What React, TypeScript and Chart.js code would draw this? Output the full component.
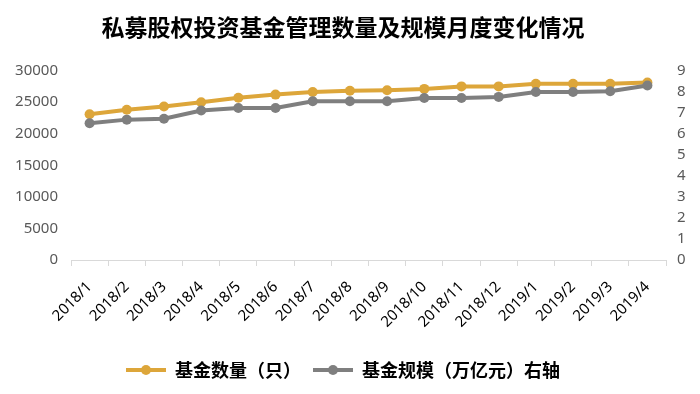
import React, { useEffect, useRef } from "react";
import { Chart, registerables } from "chart.js";

Chart.register(...registerables);

const TITLE = "私募股权投资基金管理数量及规模月度变化情况";
const CATEGORIES = [
  "2018/1", "2018/2", "2018/3", "2018/4", "2018/5", "2018/6", "2018/7", "2018/8",
  "2018/9", "2018/10", "2018/11", "2018/12", "2019/1", "2019/2", "2019/3", "2019/4",
];
const COUNT_LABEL = "基金数量（只）";
const COUNT_VALUES = [
  23100, 23800, 24300, 25000, 25700, 26200, 26600, 26800,
  26900, 27100, 27500, 27500, 27900, 27900, 27900, 28100,
];
const SCALE_LABEL = "基金规模（万亿元）右轴";
const SCALE_VALUES = [
  6.5, 6.67, 6.71, 7.1, 7.22, 7.22, 7.54, 7.54,
  7.54, 7.7, 7.7, 7.75, 7.98, 7.98, 8.02, 8.29,
];

const YELLOW = "#DDA63A";
const GRAY = "#7F7F7F";
const NUM_FONT = "'Noto Sans', sans-serif";
const CJK_FONT = "'Noto Sans CJK SC', sans-serif";

function makeLegendIcon(color: string) {
  const c = document.createElement("canvas");
  c.width = 40;
  c.height = 12;
  const ctx = c.getContext("2d")!;
  ctx.strokeStyle = color;
  ctx.lineWidth = 4;
  ctx.beginPath();
  ctx.moveTo(0, 6);
  ctx.lineTo(40, 6);
  ctx.stroke();
  ctx.fillStyle = color;
  ctx.beginPath();
  ctx.arc(20, 6, 5, 0, Math.PI * 2);
  ctx.fill();
  return c;
}

export default function App() {
  const ref = useRef<HTMLCanvasElement | null>(null);

  useEffect(() => {
    if (!ref.current) return;
    const icons = [makeLegendIcon(YELLOW), makeLegendIcon(GRAY)];
    const chart = new Chart(ref.current, {
      type: "line",
      data: {
        labels: CATEGORIES,
        datasets: [
          {
            label: COUNT_LABEL,
            data: COUNT_VALUES,
            borderColor: YELLOW,
            backgroundColor: YELLOW,
            borderWidth: 4,
            pointRadius: 5,
            pointBorderWidth: 0,
            pointBackgroundColor: YELLOW,
            yAxisID: "y",
            order: 1,
          },
          {
            label: SCALE_LABEL,
            data: SCALE_VALUES,
            borderColor: GRAY,
            backgroundColor: GRAY,
            borderWidth: 4,
            pointRadius: 5,
            pointBorderWidth: 0,
            pointBackgroundColor: GRAY,
            yAxisID: "y1",
            order: 0,
          },
        ],
      },
      options: {
        responsive: false,
        animation: false,
        devicePixelRatio: 1,
        layout: { padding: { left: 0, right: 14, top: 0, bottom: 5 } },
        plugins: {
          tooltip: { enabled: false },
          title: {
            display: true,
            text: TITLE,
            color: "#000",
            font: { family: CJK_FONT, size: 23, weight: "bold" },
            padding: { top: 13, bottom: 30 },
          },
          legend: {
            position: "bottom",
            labels: {
              color: "#000",
              font: { family: CJK_FONT, size: 18, weight: "bold" },
              usePointStyle: true,
              pointStyleWidth: 40,
              padding: 12,
              generateLabels: (ch: any) =>
                ch.data.datasets.map((ds: any, i: number) => ({
                  text: ds.label,
                  fillStyle: ds.borderColor,
                  strokeStyle: ds.borderColor,
                  lineWidth: 0,
                  pointStyle: icons[i],
                  hidden: false,
                  datasetIndex: i,
                  fontColor: "#000",
                })),
            },
          },
        },
        scales: {
          x: {
            offset: true,
            grid: {
              display: true,
              drawOnChartArea: false,
              drawTicks: true,
              tickLength: 6,
              offset: true,
              color: "#D9D9D9",
            },
            border: { display: true, color: "#D9D9D9", width: 1 },
            ticks: {
              color: "#000",
              font: { family: NUM_FONT, size: 15 },
              minRotation: 45,
              maxRotation: 45,
              autoSkip: false,
              padding: 12,
            },
            afterFit: (s: any) => {
              s.height = 89;
            },
          },
          y: {
            position: "left",
            min: 0,
            max: 30000,
            grid: { display: false, drawTicks: false },
            border: { display: false },
            ticks: {
              stepSize: 5000,
              color: "#595959",
              font: { family: NUM_FONT, size: 15 },
              padding: 13,
              callback: (v: any) => String(v),
            },
            afterFit: (s: any) => {
              s.width = 71;
            },
          },
          y1: {
            position: "right",
            min: 0,
            max: 9,
            grid: { display: false, drawTicks: false },
            border: { display: false },
            ticks: {
              stepSize: 1,
              color: "#595959",
              font: { family: NUM_FONT, size: 15 },
              padding: 11,
              callback: (v: any) => String(v),
            },
            afterFit: (s: any) => {
              s.width = 20;
            },
          },
        },
      },
    } as any);
    return () => chart.destroy();
  }, []);

  return (
    <div style={{ position: "absolute", left: 0, top: 0, width: 700, height: 394, background: "#fff" }}>
      <canvas ref={ref} width={700} height={394} />
    </div>
  );
}
